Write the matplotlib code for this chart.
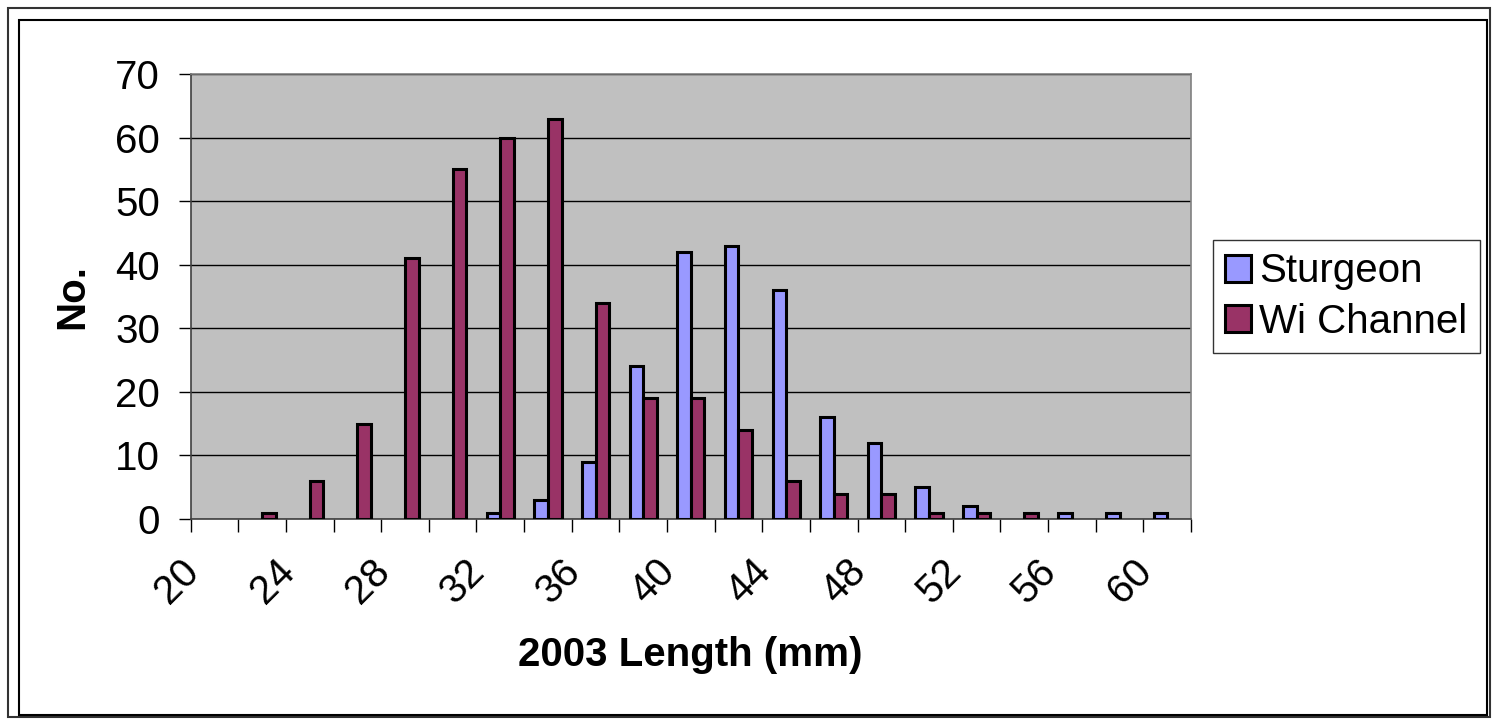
import numpy as np
import matplotlib
matplotlib.use('Agg')
import matplotlib.pyplot as plt
import matplotlib.transforms as mtransforms
from matplotlib.patches import Rectangle

plt.rcParams['font.family'] = ['Liberation Sans', 'DejaVu Sans']

# данные
lengths = [20, 22, 24, 26, 28, 30, 32, 34, 36, 38, 40,
           42, 44, 46, 48, 50, 52, 54, 56, 58, 60]
sturgeon = [0, 0, 0, 0, 0, 0, 1, 3, 9, 24, 42,
            43, 36, 16, 12, 5, 2, 0, 1, 1, 1]
wi_channel = [0, 1, 6, 15, 41, 55, 60, 63, 34, 19, 19,
              14, 6, 4, 4, 1, 1, 1, 0, 0, 0]
series_names = ['Sturgeon', 'Wi Channel']
series_colors = ['#9999FF', '#993366']

W, H = 1493, 723
FS = 29
fig = plt.figure(figsize=(W / 100, H / 100), dpi=100)
fig.patch.set_facecolor('white')

# рамки диаграммы
fig.add_artist(Rectangle((8 / W, 1 - 717 / H), (1490 - 8) / W, (717 - 8) / H,
                         transform=fig.transFigure, fill=False,
                         edgecolor='#333333', lw=1.5))
fig.add_artist(Rectangle((19 / W, 1 - 715 / H), (1487 - 19) / W, (715 - 20) / H,
                         transform=fig.transFigure, fill=False,
                         edgecolor='black', lw=1.5))

ax = fig.add_axes([190.7 / W, 1 - 519 / H, 1000.3 / W, 445 / H])
ax.set_facecolor('#C0C0C0')

x = np.arange(len(lengths))
w = 1 / 3.5
for i, (vals, name, col) in enumerate(zip([sturgeon, wi_channel],
                                          series_names, series_colors)):
    vals = np.array(vals)
    nz = vals > 0  # нулевые столбики не рисуем
    shift = -w / 2 if i == 0 else w / 2
    ax.bar(x[nz] + shift, vals[nz], w, color=col, edgecolor='black',
           linewidth=2.2, label=name, zorder=3)

ax.set_xlim(-0.5, len(lengths) - 0.5)
ax.set_ylim(0, 70)
ax.set_yticks(np.arange(0, 71, 10))
ax.yaxis.grid(True, color='black', linewidth=1, zorder=1)
ax.set_axisbelow(True)

# деления на границах категорий, подписи через одну
ax.set_xticks(np.arange(-0.5, len(lengths), 1))
ax.set_xticklabels([])
ax.set_xticks(x[::2], minor=True)
ax.set_xticklabels([str(v) for v in lengths[::2]], minor=True,
                   rotation=45, ha='right', fontsize=FS)
ax.tick_params(axis='x', which='major', direction='out', length=9, width=1,
               color='black')
ax.tick_params(axis='x', which='minor', length=0, pad=24)
ax.tick_params(axis='y', direction='out', length=9, width=1, pad=13,
               labelsize=FS, color='black')

offset = mtransforms.ScaledTranslation(-8 / 100, 0, fig.dpi_scale_trans)
for lab in ax.get_xticklabels(minor=True):
    lab.set_transform(lab.get_transform() + offset)

for side in ['top', 'right']:
    ax.spines[side].set_color('#808080')
    ax.spines[side].set_linewidth(1.2)
for side in ['left', 'bottom']:
    ax.spines[side].set_color('#404040')
    ax.spines[side].set_linewidth(1.2)

fig.text(72 / W, 1 - 297 / H, 'No.', rotation=90, ha='center', va='center',
         fontsize=FS, fontweight='bold')
fig.text(690 / W, 1 - 655 / H, '2003 Length (mm)', ha='center', va='center',
         fontsize=FS, fontweight='bold')

leg = fig.legend(loc='center left', bbox_to_anchor=(1213 / W, 1 - 296.5 / H),
                 fontsize=FS, frameon=True, fancybox=False, edgecolor='black',
                 handlelength=0.65, handleheight=0.65, handletextpad=0.2,
                 labelspacing=0.3, borderpad=0.3, borderaxespad=0)
leg.get_frame().set_linewidth(1)

fig.savefig('out.png', dpi=100)
